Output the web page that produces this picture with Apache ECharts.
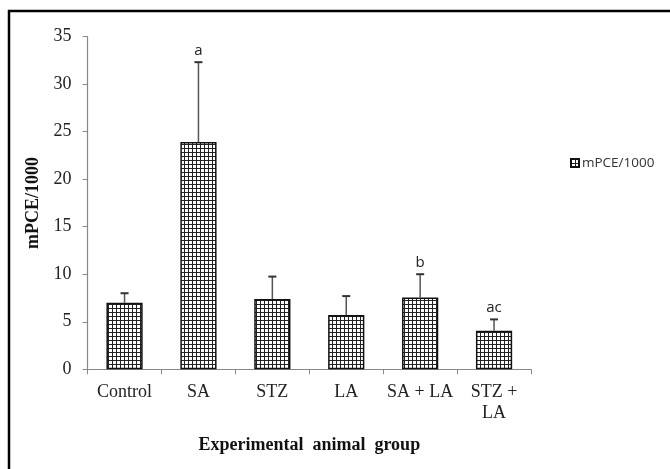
<!DOCTYPE html>
<html>
<head>
<meta charset="utf-8">
<script src="https://cdn.jsdelivr.net/npm/echarts@6/dist/echarts.min.js"></script>
<style>
html,body{margin:0;padding:0;background:#fff;}
#chart{width:670px;height:469px;}
</style>
</head>
<body>
<div id="chart"></div>
<script>
var categories = ['Control', 'SA', 'STZ', 'LA', 'SA + LA', 'STZ +\nLA'];
var means = [7.0, 23.9, 7.4, 5.7, 7.55, 4.05];
var errors = [1.0, 8.4, 2.35, 2.0, 2.45, 1.2];
var sigLabels = ['', 'a', '', '', 'b', 'ac'];
var yTicks = { min: 0, max: 35, interval: 5 };
var seriesName = 'mPCE/1000';

function makePattern() {
  var c = document.createElement('canvas');
  c.width = 4; c.height = 4;
  var ctx = c.getContext('2d');
  ctx.fillStyle = '#222';
  ctx.fillRect(0, 0, 4, 4);
  ctx.fillStyle = '#ffffff';
  ctx.fillRect(1, 1, 3, 3);
  return c;
}
var pattern = makePattern();

var chart = echarts.init(document.getElementById('chart'));
var serif = '"Liberation Serif", "Times New Roman", serif';
var sans = '"Open Sans", "DejaVu Sans", sans-serif';

var option = {
  animation: false,
  backgroundColor: '#fff',
  grid: { left: 87.6, right: 139, top: 36.5, bottom: 99.7, containLabel: false },
  legend: {
    left: 565, top: 151,
    itemWidth: 8, itemHeight: 8, itemGap: 4,
    data: [{ name: seriesName, icon: 'rect' }],
    textStyle: { fontFamily: sans, fontSize: 13.5, color: '#333', padding: [0, 0, 0, -2] }
  },
  xAxis: {
    type: 'category',
    data: categories,
    axisLine: { lineStyle: { color: '#888', width: 1.2 } },
    axisTick: { show: true, length: 5, lineStyle: { color: '#888' } },
    axisLabel: { fontFamily: serif, fontSize: 18, color: '#222', margin: 12, lineHeight: 21, interval: 0 },
    name: 'Experimental  animal  group',
    nameLocation: 'middle',
    nameGap: 67,
    nameTextStyle: { fontFamily: serif, fontSize: 18, fontWeight: 'bold', color: '#111' }
  },
  yAxis: {
    type: 'value',
    min: yTicks.min, max: yTicks.max, interval: yTicks.interval,
    splitLine: { show: false },
    axisLine: { show: true, lineStyle: { color: '#888', width: 1.2 } },
    axisTick: { show: true, length: 5, lineStyle: { color: '#888' } },
    axisLabel: { fontFamily: serif, fontSize: 18, color: '#222', margin: 16 },
    name: 'mPCE/1000',
    nameLocation: 'middle',
    nameGap: 44,
    nameRotate: 90,
    nameTextStyle: { fontFamily: serif, fontSize: 18, fontWeight: 'bold', color: '#111' }
  },
  series: [
    {
      name: seriesName,
      type: 'bar',
      data: means,
      barWidth: '49%',
      itemStyle: {
        color: { image: pattern, repeat: 'repeat' },
        borderColor: '#111',
        borderWidth: 1.5
      },
      z: 2
    },
    {
      type: 'custom',
      name: 'err',
      data: means.map(function (m, i) { return [i, m, m + errors[i]]; }),
      renderItem: function (params, api) {
        var i = api.value(0);
        var base = api.coord([i, api.value(1)]);
        var top = api.coord([i, api.value(2)]);
        var label = sigLabels[i];
        var children = [
          { type: 'line', shape: { x1: base[0], y1: base[1], x2: top[0], y2: top[1] }, style: { stroke: '#555', lineWidth: 1.5 } },
          { type: 'line', shape: { x1: top[0] - 4, y1: top[1], x2: top[0] + 4, y2: top[1] }, style: { stroke: '#333', lineWidth: 2 } }
        ];
        if (label) {
          children.push({ type: 'text', style: { text: label, x: top[0], y: top[1] - 4, align: 'center', verticalAlign: 'bottom', fill: '#222', font: '15px ' + sans } });
        }
        return { type: 'group', children: children };
      },
      z: 3
    }
  ],
  graphic: [
    { type: 'line', shape: { x1: 8, y1: 11, x2: 670, y2: 11 }, style: { stroke: '#000', lineWidth: 2.5 } },
    { type: 'line', shape: { x1: 9, y1: 10, x2: 9, y2: 469 }, style: { stroke: '#000', lineWidth: 2.5 } }
  ]
};
chart.setOption(option);
</script>
</body>
</html>
